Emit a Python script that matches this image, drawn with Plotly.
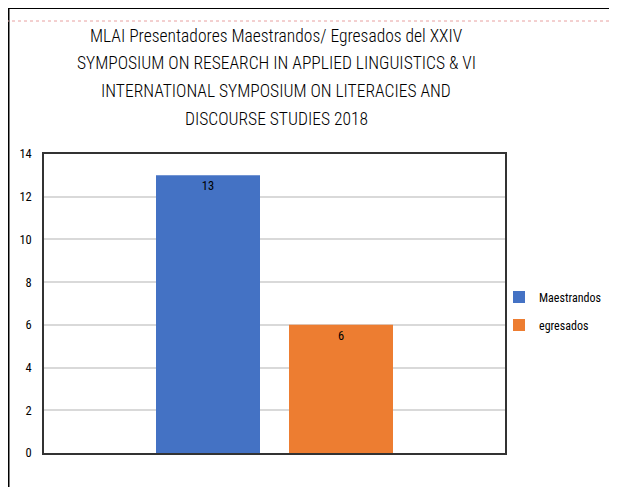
import plotly.graph_objects as go

categories = ["MLAI"]
series_names = ["Maestrandos", "egresados"]
maestrandos = [13]
egresados = [6]
title_lines = [
    "MLAI Presentadores Maestrandos/ Egresados del XXIV",
    "SYMPOSIUM ON RESEARCH IN APPLIED LINGUISTICS & VI",
    "INTERNATIONAL SYMPOSIUM ON LITERACIES AND",
    "DISCOURSE STUDIES 2018",
]
colors = ["#4472C4", "#ED7D31"]

FONT = "Roboto Condensed"

# page offset of the plotly div (body margin) and figure size that fits the window
OFF = 8
FIG_W, FIG_H = 617 - OFF, 487 - OFF
# plot-area geometry in page pixels
L, T, W, H = 44, 154, 461, 299
B = T + H
def px(xp):
    return (xp - L) / W
def py(yp):
    return (B - yp) / H

fig = go.Figure()
for name, vals, col in zip(series_names, [maestrandos, egresados], colors):
    fig.add_trace(go.Bar(
        x=categories, y=vals, name=name, legendgroup=name,
        marker=dict(color=col, line=dict(width=0)),
        text=[str(v) for v in vals], textposition="inside",
        insidetextanchor="end",
        textfont=dict(color="black", size=12.5, family=FONT),
    ))

fig.update_layout(
    width=FIG_W, height=FIG_H,
    margin=dict(l=L - OFF, r=FIG_W - (L - OFF) - W, t=T - OFF,
                b=FIG_H - (B - OFF), autoexpand=False),
    paper_bgcolor="white", plot_bgcolor="white",
    barmode="group", bargap=0.423, bargroupgap=0.218,
    font=dict(family=FONT, color="black"),
    showlegend=True,
    legend=dict(x=px(499), y=py(311), xanchor="left", yanchor="middle",
                font=dict(size=12, family=FONT), itemwidth=30,
                tracegroupgap=9, bgcolor="rgba(0,0,0,0)"),
    uniformtext=dict(mode="show", minsize=12),
)
for line, ypos in zip(title_lines, [36, 63, 91, 119]):
    fig.add_annotation(text=line, xref="paper", yref="paper",
                       x=px(276), y=py(ypos), xanchor="center", yanchor="middle",
                       showarrow=False,
                       font=dict(size=17.5, family=FONT, color="black", weight=350))

fig.update_yaxes(range=[0, 14], dtick=2, showgrid=True, gridcolor="#D9D9D9",
                 gridwidth=1.5, showline=True, linecolor="#333333", linewidth=1.5,
                 mirror=True, ticks="", tickfont=dict(size=12.5, family=FONT),
                 ticklabelstandoff=8, zeroline=False)
fig.update_xaxes(showticklabels=False, showline=True, linecolor="#333333",
                 linewidth=1.5, mirror=True, ticks="", showgrid=False)

# outer chart border and dotted guide line
fig.add_shape(type="rect", xref="paper", yref="paper",
              x0=px(8.5), x1=px(640), y0=py(510), y1=py(8),
              line=dict(color="black", width=2), fillcolor="rgba(0,0,0,0)",
              layer="below")
fig.add_shape(type="line", xref="paper", yref="paper",
              x0=px(0), x1=px(620), y0=py(21), y1=py(21),
              line=dict(color="#E8A0A0", width=1, dash="dot"))

fig.write_html("out.html")
